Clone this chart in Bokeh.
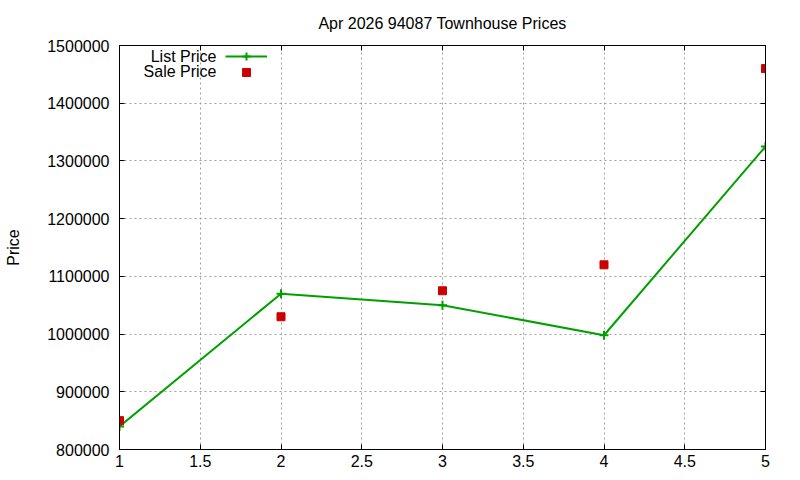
from bokeh.plotting import figure
from bokeh.models import (Range1d, LinearAxis, FixedTicker, Legend, LegendItem, Label,
                          CustomJSTickFormatter)
from bokeh.core.properties import value
from bokeh.embed import file_html
from bokeh.resources import INLINE

chart_title = "Apr 2026 94087 Townhouse Prices"
y_label = "Price"
series_names = ["List Price", "Sale Price"]
months = [1, 2, 3, 4, 5]
list_price = [840000, 1070000, 1050000, 998000, 1325000]
sale_price = [850000, 1030000, 1075000, 1120000, 1460000]
x_ticks = [1, 1.5, 2, 2.5, 3, 3.5, 4, 4.5, 5]
x_tick_labels = ["1", "1.5", "2", "2.5", "3", "3.5", "4", "4.5", "5"]
y_ticks = [800000, 900000, 1000000, 1100000, 1200000, 1300000, 1400000, 1500000]
y_tick_labels = ["800000", "900000", "1000000", "1100000", "1200000", "1300000", "1400000", "1500000"]

FONT = "Liberation Sans"
FS = "16px"
GREEN = "#00a000"
RED = "#cc0000"

p = figure(width=800, height=480, output_backend="svg", toolbar_location=None,
           x_range=Range1d(1, 5), y_range=Range1d(800000, 1500000),
           min_border_left=119, min_border_right=35, min_border_top=45, min_border_bottom=31,
           background_fill_color="white", border_fill_color="white")

p.title.text = chart_title
p.title.align = "center"
p.title.vertical_align = "top"
p.title.text_font = FONT
p.title.text_font_size = FS
p.title.text_font_style = "normal"
p.title.text_color = "black"
p.title.standoff = 24

p.outline_line_color = "black"
p.outline_line_alpha = 1
p.outline_line_width = 1

xt = FixedTicker(ticks=x_ticks)
yt = FixedTicker(ticks=y_ticks)

for ax in (p.xaxis[0], p.yaxis[0]):
    ax.axis_line_color = "black"
    ax.major_tick_line_color = "black"
    ax.major_tick_in = 5
    ax.major_tick_out = 0
    ax.minor_tick_line_color = None
    ax.major_label_text_font = FONT
    ax.major_label_text_font_size = FS
    ax.major_label_text_color = "black"

p.xaxis[0].ticker = xt
p.xaxis[0].major_label_overrides = {t: s for t, s in zip(x_ticks, x_tick_labels)}
p.xaxis[0].major_label_standoff = 5
p.yaxis[0].ticker = yt
p.yaxis[0].major_label_overrides = {t: s for t, s in zip(y_ticks, y_tick_labels)}
p.yaxis[0].major_label_standoff = 10
p.yaxis[0].axis_label = y_label
p.yaxis[0].axis_label_text_font = FONT
p.yaxis[0].axis_label_text_font_size = FS
p.yaxis[0].axis_label_text_font_style = "normal"
p.yaxis[0].axis_label_text_color = "black"
p.yaxis[0].axis_label_standoff = 22

blank = CustomJSTickFormatter(code="return ''")
for ticker, side in ((xt, "above"), (yt, "right")):
    ax = LinearAxis(ticker=ticker, formatter=blank, major_tick_in=5, major_tick_out=0,
                    major_label_standoff=0, axis_line_color="black",
                    major_tick_line_color="black", minor_tick_line_color=None,
                    major_label_text_font_size="1px")
    p.add_layout(ax, side)

for g in (p.xgrid[0], p.ygrid[0]):
    g.grid_line_color = "#a0a0a0"
    g.grid_line_dash = "2 3"
    g.grid_line_width = 1
p.xgrid[0].ticker = xt
p.ygrid[0].ticker = yt

r_line = p.line(months, list_price, line_color=GREEN, line_width=2)
r_cross = p.scatter(months, list_price, marker="cross", size=9, line_color=GREEN, line_width=2)
r_sale = p.scatter(months, sale_price, marker="square", size=8, fill_color=RED, line_color=RED)

legend_rows = [([r_line, r_cross], 383), ([r_sale], 367)]
for renderers, vy in legend_rows:
    lg = Legend(items=[LegendItem(label=value(" "), renderers=renderers)],
                location=(106, vy), orientation="vertical", glyph_width=42, glyph_height=20,
                spacing=0, padding=0, margin=0, label_standoff=0, label_width=0,
                label_text_font_size="1px", border_line_alpha=0, background_fill_alpha=0)
    p.add_layout(lg, "center")

for name, y in zip(series_names, (393.5, 378)):
    p.add_layout(Label(x=97, y=y, x_units="screen", y_units="screen", text=name,
                       text_align="right", text_baseline="middle", text_font=FONT,
                       text_font_size=FS, text_color="black"))

open("out.html", "w").write(file_html(p, INLINE))
